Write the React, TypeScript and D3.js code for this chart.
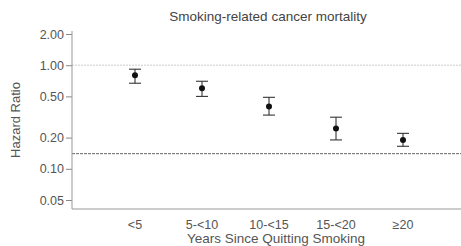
import React, { useEffect, useRef } from 'react';
import { select, scaleLog, scalePoint, axisLeft } from 'd3';

const categories = ['<5', '5-<10', '10-<15', '15-<20', '≥20'];
const hazard = [0.8, 0.6, 0.4, 0.245, 0.19];
const lower = [0.67, 0.5, 0.33, 0.19, 0.165];
const upper = [0.915, 0.7, 0.49, 0.315, 0.22];
const yTicks = [0.05, 0.1, 0.2, 0.5, 1, 2];
const referenceLine = 0.14;

const W = 461;
const H = 246;

const App = () => {
  const svgRef = useRef<SVGSVGElement>(null);

  useEffect(() => {
    const svg = select(svgRef.current);
    svg.selectAll('*').remove();

    const left = 72;
    const right = W;
    const bottom = 209;

    const y = scaleLog().domain([0.05, 2]).range([200, 34]);
    const x = scalePoint<string>().domain(categories).range([135, 403]);

    const font = 'Liberation Sans, Arial, sans-serif';
    const textColor = '#555';

    // title
    svg.append('text')
      .attr('x', 268).attr('y', 21)
      .attr('text-anchor', 'middle')
      .attr('font-family', font).attr('font-size', 13.5)
      .attr('fill', '#444')
      .text('Smoking-related cancer mortality');

    // reference lines
    svg.append('line')
      .attr('x1', left).attr('x2', right)
      .attr('y1', y(1)).attr('y2', y(1))
      .attr('stroke', '#ccc').attr('stroke-width', 1)
      .attr('stroke-dasharray', '2,1');
    svg.append('line')
      .attr('x1', left).attr('x2', right)
      .attr('y1', y(referenceLine)).attr('y2', y(referenceLine))
      .attr('stroke', '#666').attr('stroke-width', 1)
      .attr('stroke-dasharray', '3,1');

    // y axis
    const yAxis = axisLeft(y).tickValues(yTicks).tickFormat((d: any) => (+d).toFixed(2)).tickSize(6).tickPadding(2).tickSizeOuter(0);
    const gy = svg.append('g').attr('transform', `translate(${left},0)`).call(yAxis);
    gy.select('.domain').remove();
    gy.selectAll('line').attr('stroke', '#888');
    gy.selectAll('text').attr('font-family', font).attr('font-size', 12.5).attr('fill', textColor);
    svg.append('line')
      .attr('x1', left).attr('x2', left).attr('y1', 31).attr('y2', bottom)
      .attr('stroke', '#999');

    // x axis line
    svg.append('line')
      .attr('x1', left).attr('x2', right).attr('y1', bottom).attr('y2', bottom)
      .attr('stroke', '#999');
    svg.selectAll('.xlab')
      .data(categories)
      .join('text')
      .attr('class', 'xlab')
      .attr('x', d => x(d)!)
      .attr('y', 229)
      .attr('text-anchor', 'middle')
      .attr('font-family', font).attr('font-size', 12.5)
      .attr('fill', textColor)
      .text(d => d);

    svg.append('text')
      .attr('x', 276).attr('y', 243)
      .attr('text-anchor', 'middle')
      .attr('font-family', font).attr('font-size', 13.5)
      .attr('fill', textColor)
      .text('Years Since Quitting Smoking');

    svg.append('text')
      .attr('transform', `translate(20,120) rotate(-90)`)
      .attr('text-anchor', 'middle')
      .attr('font-family', font).attr('font-size', 13)
      .attr('fill', textColor)
      .text('Hazard Ratio');

    // error bars
    const g = svg.selectAll('.pt')
      .data(categories)
      .join('g')
      .attr('class', 'pt')
      .attr('transform', d => `translate(${x(d)},0)`);
    g.append('line')
      .attr('y1', (_, i) => y(lower[i])).attr('y2', (_, i) => y(upper[i]))
      .attr('stroke', '#222');
    g.append('line')
      .attr('x1', -6).attr('x2', 6)
      .attr('y1', (_, i) => y(lower[i])).attr('y2', (_, i) => y(lower[i]))
      .attr('stroke', '#222');
    g.append('line')
      .attr('x1', -6).attr('x2', 6)
      .attr('y1', (_, i) => y(upper[i])).attr('y2', (_, i) => y(upper[i]))
      .attr('stroke', '#222');
    g.append('circle')
      .attr('cy', (_, i) => y(hazard[i]))
      .attr('r', 3)
      .attr('fill', '#111');
  }, []);

  return (
    <svg ref={svgRef} width={W} height={H} style={{ position: 'absolute', left: 0, top: 0, background: '#fff' }} />
  );
};

export default App;
